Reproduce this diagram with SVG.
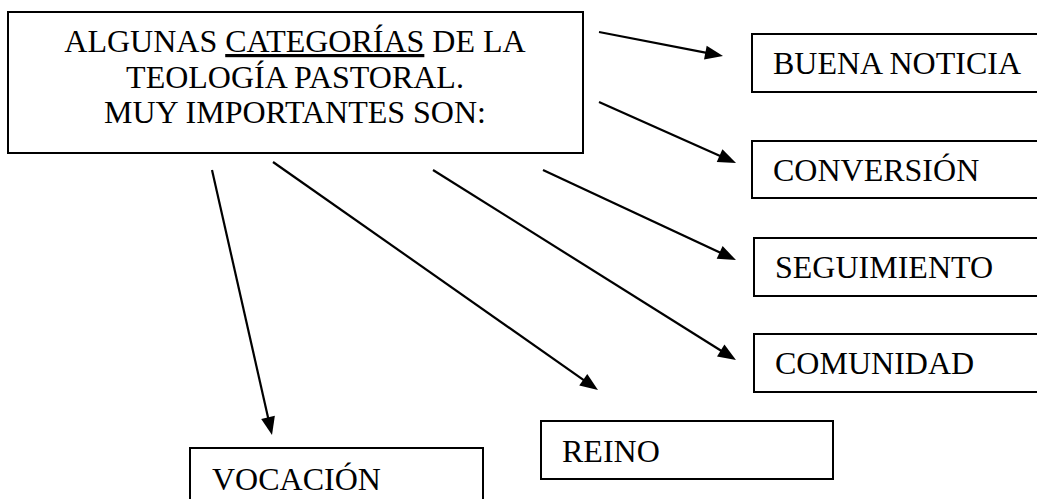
<svg xmlns="http://www.w3.org/2000/svg" width="1037" height="499" viewBox="0 0 1037 499">
<style>
.box{fill:#fff;stroke:#000;stroke-width:2}
.t{font-family:"Liberation Serif","Times New Roman",serif;font-size:32px;fill:#000}
.c{text-anchor:middle}
.conn line{stroke:#000;stroke-width:2.2;fill:none}
</style>
<defs>
<marker id="ah" markerUnits="userSpaceOnUse" markerWidth="18" markerHeight="14" refX="8" refY="7" orient="auto" overflow="visible">
<path d="M0,0 L18,7 L0,14 z" fill="#000"/>
</marker>
</defs>
<rect width="1037" height="499" fill="#fff"/>
<g id="main">
<rect class="box" x="8" y="12" width="575" height="141"/>
<text class="t c" x="295" y="52">ALGUNAS <tspan text-decoration="underline" style="text-decoration:underline">CATEGORÍAS</tspan> DE LA</text>
<text class="t c" x="295" y="88">TEOLOGÍA PASTORAL.</text>
<text class="t c" x="295" y="123">MUY IMPORTANTES SON:</text>
</g>
<g id="buena-noticia">
<rect class="box" x="752" y="34" width="400" height="58"/>
<text class="t" x="773" y="74">BUENA NOTICIA</text>
</g>
<g id="conversion">
<rect class="box" x="752" y="141" width="400" height="57"/>
<text class="t" x="773" y="181">CONVERSIÓN</text>
</g>
<g id="seguimiento">
<rect class="box" x="754" y="238" width="400" height="58"/>
<text class="t" x="775" y="278">SEGUIMIENTO</text>
</g>
<g id="comunidad">
<rect class="box" x="754" y="334" width="400" height="58"/>
<text class="t" x="775" y="374">COMUNIDAD</text>
</g>
<g id="reino">
<rect class="box" x="541" y="421" width="292" height="58"/>
<text class="t" x="562" y="462">REINO</text>
</g>
<g id="vocacion">
<rect class="box" x="190" y="448" width="293" height="100"/>
<text class="t" x="212" y="490">VOCACIÓN</text>
</g>
<g id="connectors" class="conn">
<line x1="599" y1="32" x2="713.2" y2="54.1" marker-end="url(#ah)"/>
<line x1="599" y1="102" x2="726.9" y2="158.9" marker-end="url(#ah)"/>
<line x1="543" y1="170" x2="726.9" y2="255.8" marker-end="url(#ah)"/>
<line x1="433" y1="170" x2="727.5" y2="354.7" marker-end="url(#ah)"/>
<line x1="273" y1="162" x2="589.8" y2="384.3" marker-end="url(#ah)"/>
<line x1="212" y1="170" x2="269.8" y2="425.2" marker-end="url(#ah)"/>
</g>
</svg>
